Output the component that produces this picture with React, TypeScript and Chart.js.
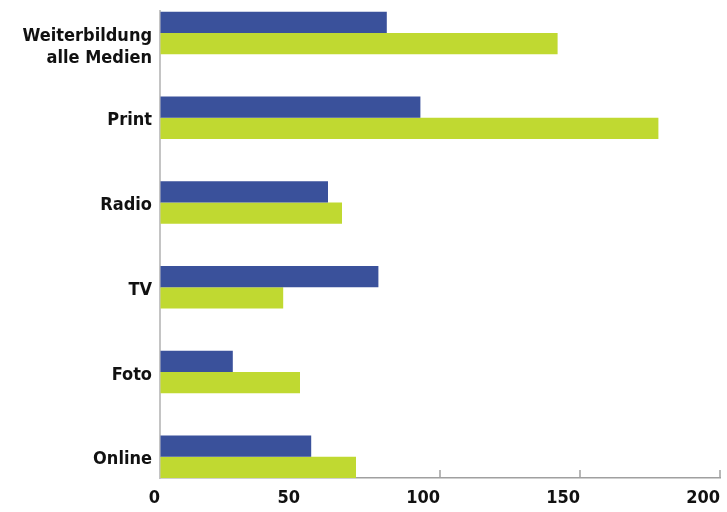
import React, { useEffect, useRef } from "react";
import { Chart, registerables } from "chart.js";

Chart.register(...registerables);

const categories: string[][] = [
  ["Weiterbildung", "alle Medien"],
  ["Print"],
  ["Radio"],
  ["TV"],
  ["Foto"],
  ["Online"],
];
const seriesBlue = [81, 93, 60, 78, 26, 54];
const seriesGreen = [142, 178, 65, 44, 50, 70];
const xTicks = [0, 50, 100, 150, 200];

const BLUE = "#3a519b";
const GREEN = "#c0d931";
const FONT = "'DejaVu Sans Condensed', 'DejaVu Sans', sans-serif";

const innerTicks = {
  id: "innerTicks",
  beforeDatasetsDraw(chart: any) {
    const x = chart.scales.x;
    const { ctx, chartArea } = chart;
    ctx.save();
    ctx.strokeStyle = "#a0a0a0";
    ctx.lineWidth = 1.5;
    xTicks.forEach((v) => {
      if (v === 0) return;
      const px = x.getPixelForValue(v);
      ctx.beginPath();
      ctx.moveTo(px, chartArea.bottom);
      ctx.lineTo(px, chartArea.bottom - 8);
      ctx.stroke();
    });
    ctx.restore();
  },
};

const categoryLabels = {
  id: "categoryLabels",
  afterDraw(chart: any) {
    const y = chart.scales.y;
    const { ctx, chartArea } = chart;
    ctx.save();
    ctx.fillStyle = "#111";
    ctx.font = `bold 18px ${FONT}`;
    ctx.textAlign = "right";
    ctx.textBaseline = "middle";
    categories.forEach((lines, i) => {
      const py = y.getPixelForValue(i) + 3;
      lines.forEach((line, j) => {
        ctx.fillText(line, chartArea.left - 8, py + j * 22);
      });
    });
    ctx.restore();
  },
};

export default function App() {
  const ref = useRef<HTMLCanvasElement>(null);
  useEffect(() => {
    document.body.style.margin = "0";
    const chart = new Chart(ref.current as HTMLCanvasElement, {
      type: "bar",
      data: {
        datasets: [
          {
            data: seriesBlue.map((v, i) => ({ x: v, y: i })),
            backgroundColor: BLUE,
            categoryPercentage: 0.5,
            barPercentage: 1,
          },
          {
            data: seriesGreen.map((v, i) => ({ x: v, y: i })),
            backgroundColor: GREEN,
            categoryPercentage: 0.5,
            barPercentage: 1,
          },
        ] as any,
      },
      options: {
        indexAxis: "y",
        animation: false,
        responsive: false,
        layout: { padding: { top: 11, right: 7, left: 0, bottom: 0 } },
        plugins: { legend: { display: false }, tooltip: { enabled: false } },
        scales: {
          x: {
            type: "linear",
            min: 0,
            max: 200,
            afterBuildTicks: (s: any) => {
              s.ticks = xTicks.map((v) => ({ value: v }));
            },
            afterFit: (s: any) => {
              s.height = 34;
              s.paddingLeft = 0;
              s.paddingRight = 0;
            },
            ticks: {
              align: "end",
              padding: 10,
              color: "#111",
              font: { family: FONT, size: 18, weight: "bold" },
            },
            grid: { drawOnChartArea: false, drawTicks: false },
            border: { color: "#a0a0a0", width: 1.5 },
          },
          y: {
            type: "linear",
            reverse: true,
            offset: false,
            bounds: "data",
            min: -0.26,
            max: 5.25,
            afterBuildTicks: (s: any) => {
              s.ticks = categories.map((_, i) => ({ value: i }));
            },
            afterFit: (s: any) => {
              s.width = 160;
              s.paddingTop = 0;
              s.paddingBottom = 0;
            },
            ticks: { display: false },
            grid: { drawOnChartArea: false, drawTicks: false, offset: false },
            border: { color: "#c4c4c4", width: 2 },
          },
        },
      } as any,
      plugins: [innerTicks, categoryLabels],
    });
    return () => chart.destroy();
  }, []);
  return (
    <div style={{ width: 727, height: 512 }}>
      <canvas ref={ref} width={727} height={512} />
    </div>
  );
}
